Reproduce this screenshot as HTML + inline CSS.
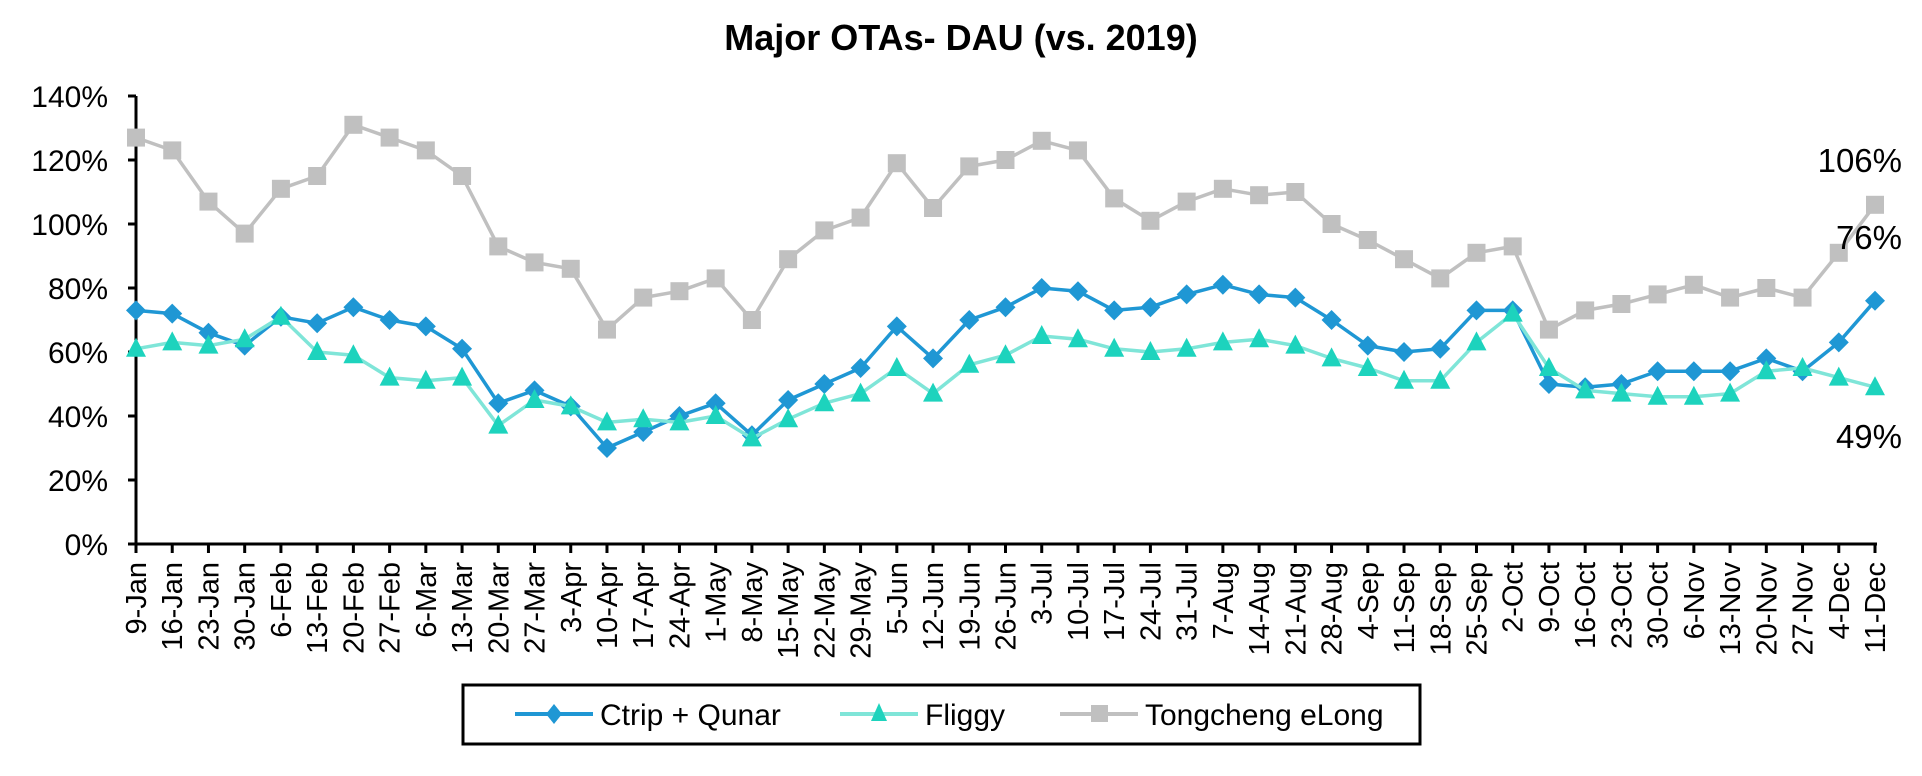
<!DOCTYPE html>
<html><head><meta charset="utf-8"><style>
html,body{margin:0;padding:0;background:#fff;}
svg{display:block;font-family:"Liberation Sans",Arial,sans-serif;}
</style></head><body>
<svg id="chart" width="1922" height="776" viewBox="0 0 1922 776">
<text x="961" y="50" text-anchor="middle" font-size="36" font-weight="bold">Major OTAs- DAU (vs. 2019)</text>
<g id="axes"></g>
<g id="series"></g>
<text x="1902" y="172" text-anchor="end" font-size="33">106%</text>
<text x="1902" y="249" text-anchor="end" font-size="33">76%</text>
<text x="1902" y="448" text-anchor="end" font-size="33">49%</text>
<g>
<rect x="463" y="685" width="957" height="59" fill="#fff" stroke="#000" stroke-width="3"/>
<g>
<line x1="515" y1="714" x2="593" y2="714" stroke="#1f97d4" stroke-width="4"/>
<path d="M554 704 L562 714 L554 724 L546 714Z" fill="#1f97d4"/>
<text x="600" y="725" font-size="30">Ctrip + Qunar</text></g>
<g>
<line x1="840" y1="714" x2="918" y2="714" stroke="#7fe5d8" stroke-width="4"/>
<path d="M879 703 L887 721 L871 721Z" fill="#1dd3bd"/>
<text x="925" y="725" font-size="30">Fliggy</text></g>
<g>
<line x1="1060" y1="714" x2="1138" y2="714" stroke="#c0c0c0" stroke-width="4"/>
<rect x="1091" y="705" width="17" height="17" fill="#c0c0c0"/>
<text x="1145" y="725" font-size="30">Tongcheng eLong</text></g>
</g>
</svg>
<script>
const categories=["9-Jan","16-Jan","23-Jan","30-Jan","6-Feb","13-Feb","20-Feb","27-Feb","6-Mar","13-Mar","20-Mar","27-Mar","3-Apr","10-Apr","17-Apr","24-Apr","1-May","8-May","15-May","22-May","29-May","5-Jun","12-Jun","19-Jun","26-Jun","3-Jul","10-Jul","17-Jul","24-Jul","31-Jul","7-Aug","14-Aug","21-Aug","28-Aug","4-Sep","11-Sep","18-Sep","25-Sep","2-Oct","9-Oct","16-Oct","23-Oct","30-Oct","6-Nov","13-Nov","20-Nov","27-Nov","4-Dec","11-Dec"];
const ctripValues=[73,72,66,62,71,69,74,70,68,61,44,48,43,30,35,40,44,34,45,50,55,68,58,70,74,80,79,73,74,78,81,78,77,70,62,60,61,73,73,50,49,50,54,54,54,58,54,63,76];
const fliggyValues=[61,63,62,64,71,60,59,52,51,52,37,45,43,38,39,38,40,33,39,44,47,55,47,56,59,65,64,61,60,61,63,64,62,58,55,51,51,63,72,55,48,47,46,46,47,54,55,52,49];
const tongchengValues=[127,123,107,97,111,115,131,127,123,115,93,88,86,67,77,79,83,70,89,98,102,119,105,118,120,126,123,108,101,107,111,109,110,100,95,89,83,91,93,67,73,75,78,81,77,80,77,91,106];
const yTicks=[0,20,40,60,80,100,120,140];

const NS="http://www.w3.org/2000/svg";
const X0=136,X1=1875,Y0=544,Y1=96,YMAX=140;
const xPos=i=>X0+(X1-X0)*i/(categories.length-1);
const yPos=v=>Y0-(Y0-Y1)*v/YMAX;
function mk(tag,attrs,parent){const e=document.createElementNS(NS,tag);for(const k in attrs)e.setAttribute(k,attrs[k]);parent.appendChild(e);return e;}
const axes=document.getElementById('axes'),series=document.getElementById('series');
const ya=mk('line',{x1:X0,y1:Y1,x2:X0,y2:Y0,stroke:'#000','stroke-width':3},axes);


const xa=mk('line',{x1:X0-8,y1:Y0,x2:X1+2,y2:Y0,stroke:'#000','stroke-width':3},axes);


yTicks.forEach(t=>{
  const y=yPos(t);
  mk('line',{x1:X0-8,y1:y,x2:X0,y2:y,stroke:'#000','stroke-width':3},axes);
  const tx=mk('text',{x:X0-28,y:y+11,'text-anchor':'end','font-size':30},axes);
  tx.textContent=t+'%';
  
  
});
categories.forEach((c,i)=>{
  const x=xPos(i);
  mk('line',{x1:x,y1:Y0,x2:x,y2:Y0+9,stroke:'#000','stroke-width':3},axes);
  const tx=mk('text',{x:0,y:0,'text-anchor':'end','font-size':29,transform:`translate(${x+10},${Y0+18}) rotate(-90)`},axes);
  tx.textContent=c;
  
  
});
function drawSeries(vals,lineColor,markColor,shape,name){
  const g=mk('g',{},series);
  
  
  const pts=vals.map((v,i)=>xPos(i)+','+yPos(v)).join(' ');
  const pl=mk('polyline',{points:pts,fill:'none',stroke:lineColor,'stroke-width':3.5,'stroke-linejoin':'round'},g);
  
  
  vals.forEach((v,i)=>{
    const x=xPos(i),y=yPos(v);let m;
    if(shape==='sq')m=mk('rect',{x:x-9,y:y-9,width:18,height:18,fill:markColor},g);
    else if(shape==='dia')m=mk('path',{d:`M${x} ${y-10}L${x+10} ${y}L${x} ${y+10}L${x-10} ${y}Z`,fill:markColor},g);
    else m=mk('path',{d:`M${x} ${y-11}L${x+10} ${y+8}L${x-10} ${y+8}Z`,fill:markColor},g);
    
    
  });
}
drawSeries(tongchengValues,'#c0c0c0','#c0c0c0','sq','tongcheng-series');
drawSeries(ctripValues,'#1f97d4','#1f97d4','dia','ctrip-series');
drawSeries(fliggyValues,'#7fe5d8','#1dd3bd','tri','fliggy-series');
</script>
</body></html>
